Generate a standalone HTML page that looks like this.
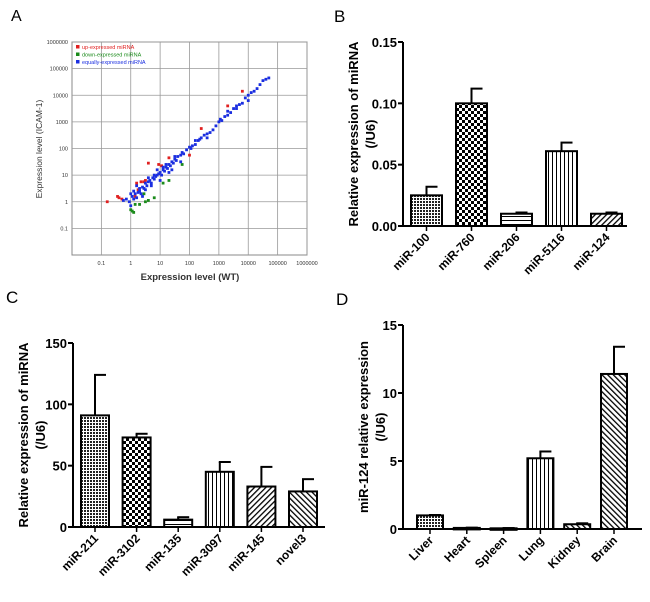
<!DOCTYPE html>
<html><head><meta charset="utf-8"><style>
body{margin:0;background:#fff;}
svg{display:block;font-family:"Liberation Sans",Arial,sans-serif;}
</style></head><body>
<svg id="fig" width="650" height="602" viewBox="0 0 650 602">
<defs>
<pattern id="pFine" width="3" height="3" patternUnits="userSpaceOnUse"><rect width="3" height="3" fill="#fff"/><rect width="2" height="2" fill="#222"/></pattern>
<pattern id="pCheck" width="6" height="6" patternUnits="userSpaceOnUse"><rect width="6" height="6" fill="#fff"/><rect width="3" height="3" fill="#000"/><rect x="3" y="3" width="3" height="3" fill="#000"/></pattern>
<pattern id="pHor" width="4" height="4" patternUnits="userSpaceOnUse"><rect width="4" height="4" fill="#fff"/><rect y="0" width="4" height="1" fill="#000"/></pattern>
<pattern id="pVer" width="4" height="4" patternUnits="userSpaceOnUse"><rect width="4" height="4" fill="#fff"/><rect width="1" height="4" fill="#000"/></pattern>
<pattern id="pDiag" width="4" height="4" patternUnits="userSpaceOnUse" patternTransform="rotate(45)"><rect width="4" height="4" fill="#fff"/><rect width="1.3" height="4" fill="#000"/></pattern>
<pattern id="pDiag2" width="4" height="4" patternUnits="userSpaceOnUse" patternTransform="rotate(-45)"><rect width="4" height="4" fill="#fff"/><rect width="1.3" height="4" fill="#000"/></pattern>
</defs>
<text x="11" y="21" font-size="16">A</text>
<text x="334" y="22" font-size="17">B</text>
<text x="6" y="303" font-size="17">C</text>
<text x="336" y="305" font-size="17">D</text>
<g id="scatter"></g>
<g id="chartB"></g>
<g id="chartC"></g>
<g id="chartD"></g>
</svg>
<script>
// ---- Panel A data (log10 values) ----
const logTicks = [-1,0,1,2,3,4,5,6];
const tickLabelsA = ["0.1","1","10","100","1000","10000","100000","1000000"];
const blueX = [-0.25,-0.15,-0.05,0.0,0.05,0.1,0.15,0.2,0.25,0.3,0.35,0.4,0.45,0.5,0.55,0.6,0.65,0.7,0.75,0.8,0.85,0.9,0.95,1.0,1.05,1.1,1.15,1.2,1.25,1.3,1.35,1.4,1.45,1.5,1.55,1.6,1.7,1.75,1.8,1.9,2.0,2.05,2.1,2.2,2.3,2.35,2.4,2.5,2.6,2.7,2.8,2.9,3.0,3.05,3.1,3.2,3.3,3.4,3.5,3.6,3.7,3.8,3.9,4.0,4.1,4.2,4.3,4.4,4.5,4.6,4.7,0.1,0.3,0.5,0.7,0.9,1.1,1.3,1.5,1.7,0.6,0.8,1.0,1.2,1.4,0.0,0.2,0.4,2.2,2.6,3.3,3.6,4.0];
const blueY = [0.05,0.1,0.0,-0.15,0.2,0.1,0.3,0.15,0.35,0.4,0.3,0.55,0.5,0.7,0.6,0.75,0.8,0.7,0.9,0.85,0.95,1.0,1.05,1.1,1.0,1.2,1.15,1.3,1.25,1.4,1.35,1.5,1.45,1.6,1.55,1.7,1.75,1.85,1.8,1.95,2.05,2.0,2.1,2.15,2.3,2.35,2.4,2.5,2.55,2.6,2.7,2.85,3.0,3.1,3.05,3.2,3.25,3.35,3.5,3.6,3.65,3.7,3.9,4.0,4.1,4.15,4.25,4.4,4.55,4.6,4.65,0.4,0.5,0.45,0.6,1.2,1.3,1.1,1.7,1.5,0.9,1.0,0.8,1.4,1.2,0.3,0.6,0.2,2.3,2.4,3.4,3.5,3.8];
const redX = [-0.8,-0.45,-0.4,-0.3,0.2,0.35,0.5,0.45,0.6,0.95,1.05,1.3,2.0,2.4,3.3,3.8,0.25,0.15];
const redY = [0.0,0.2,0.15,0.1,0.7,0.75,0.8,0.75,1.45,1.4,1.35,1.65,1.75,2.75,3.6,4.15,0.45,0.2];
const greenX = [0.0,0.05,0.1,0.15,0.3,0.5,0.6,0.8,1.1,1.3,1.75,0.45];
const greenY = [-0.3,-0.35,-0.4,-0.1,-0.1,0.0,0.05,0.15,0.7,0.8,1.4,0.3];

const NS = "http://www.w3.org/2000/svg";
function mk(tag, attrs, parent){const e=document.createElementNS(NS,tag);for(const k in attrs)e.setAttribute(k,attrs[k]);parent.appendChild(e);return e;}

(function(){
  const g=document.getElementById('scatter');
  const L=72,R=307,T=42,B=255;
  const sx=v=>L+(v+2)/8*(R-L);
  const sy=v=>B-(v+2)/8*(B-T);
  const bg=mk('rect',{x:L,y:T,width:R-L,height:B-T,fill:'#fff',stroke:'#888','stroke-width':1},g);
  
  
  logTicks.forEach((t,i)=>{
    const vx=mk('line',{x1:sx(t),x2:sx(t),y1:T,y2:B,stroke:'#999','stroke-width':0.8},g);
    
    
    const hy=mk('line',{x1:L,x2:R,y1:sy(t),y2:sy(t),stroke:'#999','stroke-width':0.8},g);
    
    
    const tx=mk('text',{x:sx(t),y:B+10,'font-size':5.5,'text-anchor':'middle',fill:'#333'},g);
    tx.textContent=tickLabelsA[i];
    
    
    const ty=mk('text',{x:L-4,y:sy(t)+2,'font-size':5.5,'text-anchor':'end',fill:'#333'},g);
    ty.textContent=tickLabelsA[i];
    
    
  });
  function pts(xs,ys,col,name){
    xs.forEach((x,i)=>{
      const p=mk('rect',{x:sx(x)-1.4,y:sy(ys[i])-1.4,width:2.8,height:2.8,fill:col},g);
      
      
    });
  }
  pts(greenX,greenY,'#1a8a1a','down-point');
  pts(redX,redY,'#e02020','up-point');
  pts(blueX,blueY,'#1a2ee0','equal-point');
  const leg=[['up-expressed miRNA','#e02020'],['down-expressed miRNA','#1a8a1a'],['equally-expressed miRNA','#1a2ee0']];
  leg.forEach((l,i)=>{
    const r=mk('rect',{x:76,y:45+i*7.5,width:3.5,height:3.5,fill:l[1]},g);
    
    
    const t=mk('text',{x:82,y:49+i*7.5,'font-size':5.5,fill:l[1]},g);
    t.textContent=l[0];
    
    
  });
  const xt=mk('text',{x:190,y:280,'font-size':9.5,'font-weight':'bold','text-anchor':'middle',fill:'#333'},g);
  xt.textContent='Expression level (WT)';
  
  
  const yt=mk('text',{x:0,y:0,'font-size':8.5,'text-anchor':'middle',fill:'#333',transform:'translate(42,149) rotate(-90)'},g);
  yt.textContent='Expression level (ICAM-1)';
  
  
})();

// ---- Panel B data ----
const catsB = ["miR-100","miR-760","miR-206","miR-5116","miR-124"];
const valsB = [0.025,0.100,0.010,0.061,0.010];
const errB = [0.007,0.012,0.001,0.007,0.001];
const ticksB = [0,0.05,0.10,0.15];
const tickLabelsB = ["0.00","0.05","0.10","0.15"];
const fillsB = ["pFine","pCheck","pHor","pVer","pDiag"];
// ---- Panel C data ----
const catsC = ["miR-211","miR-3102","miR-135","miR-3097","miR-145","novel3"];
const valsC = [91,73,6,45,33,29];
const errC = [33,3,2,8,16,10];
const ticksC = [0,50,100,150];
const tickLabelsC = ["0","50","100","150"];
const fillsC = ["pFine","pCheck","pHor","pVer","pDiag","pDiag2"];
// ---- Panel D data ----
const catsD = ["Liver","Heart","Spleen","Lung","Kidney","Brain"];
const valsD = [1.0,0.08,0.05,5.2,0.35,11.4];
const errD = [0.03,0.02,0.02,0.5,0.07,2.0];
const ticksD = [0,5,10,15];
const tickLabelsD = ["0","5","10","15"];
const fillsD = ["pFine","pHor","pHor","pVer","pDiag2","pDiag2"];

function barChart(id,cfg){
  const g=document.getElementById(id);
  const {x0,xEnd,yTop,yBot,max,cats,vals,errs,ticks,labels,fills,firstBar,step,bw,title1,title2,tx1,tx2}=cfg;
  const sy=v=>yBot-v/max*(yBot-yTop);
  const sx=i=>firstBar+i*step;
  cats.forEach((c,i)=>{
    const x=sx(i);
    const eb=mk('line',{x1:x+bw/2,x2:x+bw/2,y1:sy(vals[i]),y2:sy(vals[i]+errs[i]),stroke:'#000','stroke-width':2},g);
    
    
    const cap=mk('line',{x1:x+bw/2-1,x2:x+bw/2+11,y1:sy(vals[i]+errs[i]),y2:sy(vals[i]+errs[i]),stroke:'#000','stroke-width':2},g);
    
    
    const r=mk('rect',{x:x,y:sy(vals[i]),width:bw,height:Math.max(yBot-sy(vals[i]),1.5),fill:'url(#'+fills[i]+')',stroke:'#000','stroke-width':2},g);
    
    
    const tk=mk('line',{x1:x+bw/2,x2:x+bw/2,y1:yBot,y2:yBot+5,stroke:'#000','stroke-width':1.5},g);
    
    
    const t=mk('text',{x:0,y:0,'font-size':12,'font-weight':'bold','text-anchor':'end',transform:`translate(${x+bw/2+4},${yBot+12}) rotate(-45)`},g);
    t.textContent=c;
    
    
  });
  const ax=mk('line',{x1:x0,x2:x0,y1:yTop,y2:yBot,stroke:'#000','stroke-width':2},g);
  
  
  const xa=mk('line',{x1:x0,x2:xEnd,y1:yBot,y2:yBot,stroke:'#000','stroke-width':2},g);
  
  
  ticks.forEach((t,i)=>{
    const l=mk('line',{x1:x0-5,x2:x0,y1:sy(t),y2:sy(t),stroke:'#000','stroke-width':2},g);
    
    
    const tt=mk('text',{x:x0-6,y:sy(t)+5,'font-size':13,'font-weight':'bold','text-anchor':'end'},g);
    tt.textContent=labels[i];
    
    
  });
  const cy=(yTop+yBot)/2;
  const a=mk('text',{x:0,y:0,'font-size':13,'font-weight':'bold','text-anchor':'middle',transform:`translate(${tx1},${cy}) rotate(-90)`},g);
  a.textContent=title1;
  
  
  const b=mk('text',{x:0,y:0,'font-size':13,'font-weight':'bold','text-anchor':'middle',transform:`translate(${tx2},${cy}) rotate(-90)`},g);
  b.textContent=title2;
  
  
}
barChart('chartB',{x0:403,xEnd:627,yTop:42,yBot:226,max:0.15,cats:catsB,vals:valsB,errs:errB,ticks:ticksB,labels:tickLabelsB,fills:fillsB,firstBar:411,step:45,bw:31,title1:'Relative expression of miRNA',title2:'(/U6)',tx1:358,tx2:375});
barChart('chartC',{x0:73,xEnd:325,yTop:343,yBot:527,max:150,cats:catsC,vals:valsC,errs:errC,ticks:ticksC,labels:tickLabelsC,fills:fillsC,firstBar:81,step:41.6,bw:28,title1:'Relative expression of miRNA',title2:'(/U6)',tx1:28,tx2:45});
barChart('chartD',{x0:403,xEnd:642,yTop:325,yBot:529,max:15,cats:catsD,vals:valsD,errs:errD,ticks:ticksD,labels:tickLabelsD,fills:fillsD,firstBar:417,step:36.8,bw:26,title1:'miR-124 relative expression',title2:'(/U6)',tx1:368,tx2:385});
</script>
</body></html>
